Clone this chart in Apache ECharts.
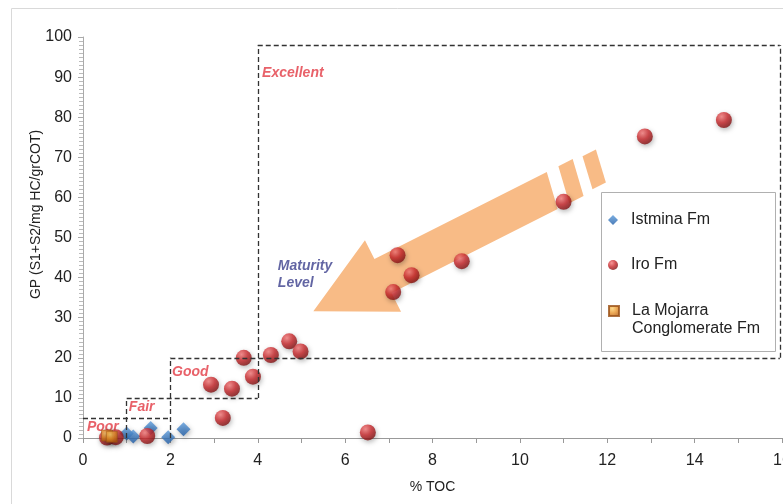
<!DOCTYPE html>
<html>
<head>
<meta charset="utf-8">
<script src="https://cdn.jsdelivr.net/npm/echarts@6/dist/echarts.min.js"></script>
<style>
  html, body { margin: 0; padding: 0; background: #fff; }
  #chart { width: 783px; height: 504px; }
</style>
</head>
<body>
<div id="chart"></div>
<script>
// Total organic carbon (% TOC) against generative potential S1+S2 for each formation
const istminaFm = [[1.0, 1.1], [1.15, 0.4], [1.55, 2.5], [1.95, 0.2], [2.3, 2.2]];
const iroFm = [
  [14.67, 79.3], [12.86, 75.2], [11.0, 58.9], [7.2, 45.6], [7.52, 40.6], [8.67, 44.1],
  [7.1, 36.4], [4.72, 24.1], [4.98, 21.6], [4.3, 20.7], [3.68, 20.0], [3.89, 15.3],
  [2.93, 13.3], [3.41, 12.3], [3.2, 5.0], [6.52, 1.4], [1.47, 0.5], [0.55, 0.1], [0.75, 0.2]
];
const laMojarraFm = [[0.55, 0.6], [0.66, 0.3]];

const seriesNames = ['Istmina Fm', 'Iro Fm', 'La Mojarra Conglomerate Fm'];

// Source-rock richness classes (segments of the dashed class boundaries, in TOC / GP units)
const richnessSegments = [
  [[0, 5], [2, 5]],
  [[1, 0], [1, 10]],
  [[1, 10], [4, 10]],
  [[2, 0], [2, 20]],
  [[2, 20], [15.95, 20]],
  [[4, 10], [4, 98]],
  [[4, 98], [15.95, 98]],
  [[15.95, 20], [15.95, 98]]
];
const richnessClasses = ['Poor', 'Fair', 'Good', 'Excellent'];
const richnessAnchors = [[0.09, 2.7], [1.05, 7.7], [2.04, 16.5], [4.1, 91]];
const maturityText = 'Maturity\nLevel';
const maturityAnchor = [4.46, 40.8];

const FONT = '"Liberation Sans", Arial, sans-serif';

function sphere(c0, c1, c2) {
  return { type: 'radial', x: 0.36, y: 0.3, r: 0.75,
    colorStops: [{ offset: 0, color: c0 }, { offset: 0.5, color: c1 }, { offset: 1, color: c2 }] };
}
const shadow = { shadowBlur: 5, shadowColor: 'rgba(0,0,0,0.35)', shadowOffsetX: 1, shadowOffsetY: 2 };

// Broad "maturity" arrow, built in its own frame (u along shaft, v across it)
function arrowPolygons() {
  const M = [383, 276], u = [0.893, -0.451], v = [0.451, 0.893];
  const P = (a, b) => [M[0] + a * u[0] + b * v[0], M[1] + a * u[1] + b * v[1]];
  return [
    [P(-78, 0), P(0, -40), P(0, -19), P(193, -19), P(186, 19), P(0, 19), P(0, 40)],
    [P(206, -19), P(222, -19), P(215, 19), P(199, 19)],
    [P(232, -17), P(247, -17), P(241, 17), P(226, 17)]
  ];
}

const chart = echarts.init(document.getElementById('chart'));

const legendText = { fontSize: 16, color: '#222', lineHeight: 18, fontFamily: FONT, padding: [0, 0, 0, 8] };

chart.setOption({
  animation: false,
  textStyle: { fontFamily: FONT },
  grid: { left: 83, right: 1, top: 37, bottom: 66, outerBoundsMode: 'none', containLabel: false },
  xAxis: {
    type: 'value', min: 0, max: 16, interval: 2,
    name: '% TOC', nameLocation: 'middle', nameGap: 42, nameMoveOverlap: false,
    nameTextStyle: { fontSize: 14, color: '#222' },
    axisLine: { lineStyle: { color: '#999' } },
    axisTick: { show: true, length: 5, lineStyle: { color: '#999' } },
    minorTick: { show: true, splitNumber: 2, length: 5, lineStyle: { color: '#999' } },
    axisLabel: { fontSize: 16, color: '#222', margin: 15 },
    splitLine: { show: false }
  },
  yAxis: {
    type: 'value', min: 0, max: 100, interval: 10,
    name: 'GP (S1+S2/mg HC/grCOT)', nameLocation: 'middle', nameGap: 40, nameMoveOverlap: false,
    nameTextStyle: { fontSize: 14, color: '#222', padding: [0, 0, 0, 46] },
    axisLine: { show: true, lineStyle: { color: '#aaa' } },
    axisTick: { show: true, length: 5, lineStyle: { color: '#aaa' } },
    minorTick: { show: true, splitNumber: 10, length: 4, lineStyle: { color: '#bbb' } },
    axisLabel: { fontSize: 16, color: '#222', margin: 11 },
    splitLine: { show: false }
  },
  legend: [
    { data: seriesNames.slice(0, 2), orient: 'vertical', left: 608, top: 211, padding: 0,
      itemGap: 27, itemWidth: 10, itemHeight: 10, textStyle: legendText },
    { data: seriesNames.slice(2), orient: 'vertical', left: 608, top: 284, padding: 0,
      itemWidth: 10, itemHeight: 10, textStyle: legendText,
      formatter: () => '\nLa Mojarra\nConglomerate Fm' }
  ],
  graphic: [
    { type: 'rect', silent: true, shape: { x: 11.5, y: 8.5, width: 800, height: 520 },
      style: { fill: 'none', stroke: '#d9d9d9', lineWidth: 1 } },
    ...arrowPolygons().map(pts => ({ type: 'polygon', silent: true, shape: { points: pts },
      style: { fill: '#f8bb86' } })),
    { type: 'rect', silent: true, shape: { x: 601.5, y: 192.5, width: 174, height: 159 },
      style: { fill: '#fff', stroke: '#b0b0b0', lineWidth: 1 } }
  ],
  series: [
    {
      name: 'richness', type: 'scatter', data: [], silent: true, z: 1,
      markLine: {
        symbol: 'none', silent: true, animation: false, label: { show: false },
        lineStyle: { color: '#333', type: [5, 3], width: 1.3 },
        data: richnessSegments.map(([a, b]) => [{ coord: a }, { coord: b }])
      }
    },
    {
      name: 'annotations', type: 'scatter', symbolSize: 0, silent: true, z: 1,
      label: {
        show: true, position: 'right', distance: 0,
        fontStyle: 'italic', fontWeight: 'bold', fontSize: 14,
        textBorderColor: '#fff', textBorderWidth: 2
      },
      data: richnessClasses.map((name, i) => ({
        value: richnessAnchors[i], label: { formatter: name, color: '#e23a44' }
      })).concat([{
        value: maturityAnchor, label: { formatter: maturityText, color: '#3b3f8c', lineHeight: 17 }
      }])
    },
    {
      name: seriesNames[0], type: 'scatter', symbol: 'diamond', symbolSize: 14, z: 3,
      itemStyle: Object.assign({ color: { type: 'linear', x: 0, y: 0, x2: 0, y2: 1,
        colorStops: [{ offset: 0, color: '#5b9bdb' }, { offset: 1, color: '#1f5ca6' }] } }, shadow),
      data: istminaFm
    },
    {
      name: seriesNames[1], type: 'scatter', symbol: 'circle', symbolSize: 16, z: 4,
      itemStyle: Object.assign({ color: sphere('#f57b7b', '#c9272b', '#7a0f10') }, shadow),
      data: iroFm
    },
    {
      name: seriesNames[2], type: 'scatter', symbol: 'rect', symbolSize: 11, z: 5,
      itemStyle: Object.assign({ color: sphere('#fbd070', '#e8922a', '#b0580c'),
        borderColor: '#9a5016', borderWidth: 0.6 }, shadow),
      data: laMojarraFm
    }
  ]
});
</script>
</body>
</html>
